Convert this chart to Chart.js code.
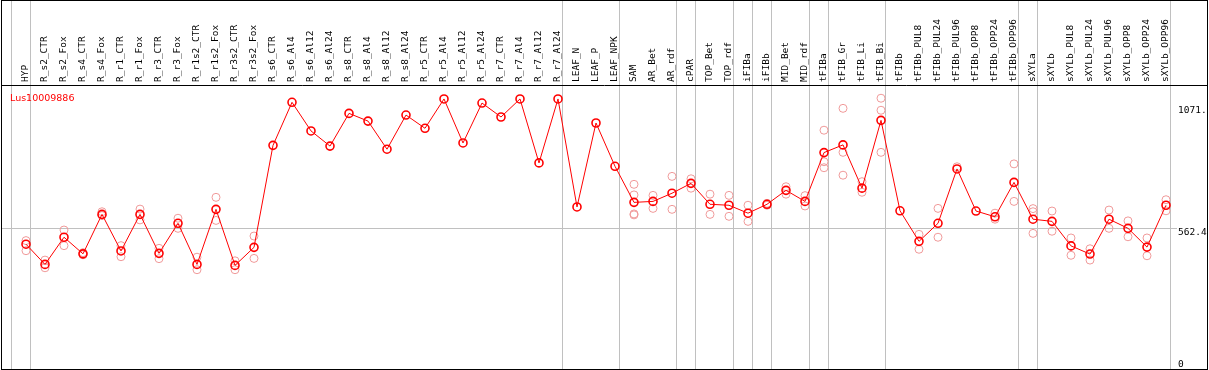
<!DOCTYPE html>
<html>
<head>
<meta charset="utf-8">
<script src="https://cdn.jsdelivr.net/npm/chart.js@4/dist/chart.umd.min.js"></script>
<style>
    body { margin: 0; background: #fff; }
    #wrap { width: 1209px; height: 370px; position: relative; }
</style>
</head>
<body>
<div id="wrap"><canvas id="chart"></canvas></div>
<script>
// 샘플(조직/처리) 이름
const categories = [
    'HYP', 'R_s2_CTR', 'R_s2_Fox', 'R_s4_CTR', 'R_s4_Fox', 'R_r1_CTR', 'R_r1_Fox', 'R_r3_CTR', 'R_r3_Fox',
    'R_r1s2_CTR', 'R_r1s2_Fox', 'R_r3s2_CTR', 'R_r3s2_Fox',
    'R_s6_CTR', 'R_s6_Al4', 'R_s6_Al12', 'R_s6_Al24', 'R_s8_CTR', 'R_s8_Al4', 'R_s8_Al12', 'R_s8_Al24',
    'R_r5_CTR', 'R_r5_Al4', 'R_r5_Al12', 'R_r5_Al24', 'R_r7_CTR', 'R_r7_Al4', 'R_r7_Al12', 'R_r7_Al24',
    'LEAF_N', 'LEAF_P', 'LEAF_NPK', 'SAM', 'AR_Bet', 'AR_rdf', 'cPAR', 'TOP_Bet', 'TOP_rdf',
    'iFIBa', 'iFIBb', 'MID_Bet', 'MID_rdf', 'tFIBa', 'tFIB_Gr', 'tFIB_Li', 'tFIB_Bi',
    'tFIBb', 'tFIBb_PUL8', 'tFIBb_PUL24', 'tFIBb_PUL96', 'tFIBb_OPP8', 'tFIBb_OPP24', 'tFIBb_OPP96',
    'sXYLa', 'sXYLb', 'sXYLb_PUL8', 'sXYLb_PUL24', 'sXYLb_PUL96', 'sXYLb_OPP8', 'sXYLb_OPP24', 'sXYLb_OPP96'
];

// 평균값 (빨간 선)
const meanValues = [
    496, 412, 525, 456, 620, 468, 620, 458, 583,
    412, 641, 408, 483,
    907, 1086, 967, 904, 1040, 1008, 891, 1033,
    978, 1100, 917, 1083, 1025, 1100, 834, 1100,
    651, 1000, 820, 670, 674, 708, 749, 662, 658,
    625, 662, 720, 674, 877, 909, 729, 1011,
    635, 508, 583, 809, 634, 610, 753,
    600, 591, 489, 455, 600, 562, 484, 658
];

// 반복 측정값 (연한 원)
const replicateValues = [
    [511, 469], [430, 398], [555, 490], [461, 452], [631, 615], [490, 444], [642, 597], [479, 436], [604, 562],
    [442, 390], [691, 595], [427, 390], [530, 437],
    [], [], [], [], [], [], [], [],
    [], [], [], [], [], [], [], [],
    [], [], [], [745, 701, 622, 618], [699, 645], [778, 641], [768, 729], [704, 620], [699, 612],
    [658, 591], [666, 658], [735, 704], [698, 655], [970, 839, 814], [1061, 878, 783], [756, 712], [1103, 1053, 878],
    [], [537, 475], [645, 525], [818], [], [625, 600], [830, 674],
    [644, 631, 541], [634, 550], [522, 450], [477, 430], [638, 562], [593, 527], [522, 448], [681, 635]
];

const seriesName = 'Lus10009886';

// y축 눈금
const yTickValues = [0, 562.4, 1071];
const yTickLabels = ['0', '562.4', '1071.'];
const yMax = 1158;

// 그룹 구분선 (이 인덱스 뒤에 선)
const groupEnds = [-1, 0, 28, 31, 34, 35, 37, 38, 39, 41, 42, 45, 52, 53, 60];

let replicatePoints = [];
replicateValues.forEach(function (reps, i) {
    reps.forEach(function (v) {
        replicatePoints.push({x: categories[i], y: v});
    });
});

// 테두리, 구분선, 범례, y 라벨
const framePlugin = {
    id: 'frame',
    beforeDatasetsDraw: function (chart) {
        const ctx = chart.ctx;
        const xs = chart.scales.x;
        const ys = chart.scales.y;
        ctx.save();
        ctx.strokeStyle = '#c0c0c0';
        ctx.lineWidth = 1;
        groupEnds.forEach(function (i) {
            const px = Math.floor(xs.getPixelForValue(i + 0.25)) + 0.5;
            ctx.beginPath();
            ctx.moveTo(px, 0);
            ctx.lineTo(px, 369);
            ctx.stroke();
        });
        const gy = Math.round(ys.getPixelForValue(yTickValues[1])) + 0.5;
        ctx.beginPath();
        ctx.moveTo(1, gy);
        ctx.lineTo(1177, gy);
        ctx.stroke();
        ctx.restore();
    },
    afterDraw: function (chart) {
        const ctx = chart.ctx;
        const ys = chart.scales.y;
        ctx.save();
        ctx.strokeStyle = '#000';
        ctx.lineWidth = 1;
        ctx.strokeRect(1.5, 0.5, 1206, 369);
        ctx.beginPath();
        ctx.moveTo(1, 85.5);
        ctx.lineTo(1208, 85.5);
        ctx.stroke();

        ctx.fillStyle = '#000';
        ctx.font = '9.5px "DejaVu Sans Mono"';
        ctx.textAlign = 'left';
        ctx.textBaseline = 'alphabetic';
        yTickValues.forEach(function (v, i) {
            const py = ys.getPixelForValue(v);
            ctx.fillText(yTickLabels[i], 1178, Math.min(py + 7, 366.5));
        });

        ctx.fillStyle = '#ff0000';
        ctx.font = '9.5px "DejaVu Sans"';
        ctx.fillText(seriesName, 10, 101);
        ctx.restore();
    }
};

new Chart(document.getElementById('chart'), {
    type: 'line',
    data: {
        labels: categories,
        datasets: [{
            label: seriesName,
            data: meanValues,
            borderColor: '#ff0000',
            borderWidth: 1,
            pointStyle: 'circle',
            pointRadius: 4,
            pointBorderWidth: 1.6,
            pointBorderColor: '#ff0000',
            pointBackgroundColor: 'rgba(0,0,0,0)',
            clip: false,
            order: 0
        }, {
            label: 'replicates',
            data: replicatePoints,
            showLine: false,
            pointStyle: 'circle',
            pointRadius: 4,
            pointBorderWidth: 1,
            pointBorderColor: '#f09a9a',
            pointBackgroundColor: 'rgba(0,0,0,0)',
            clip: false,
            order: 1
        }]
    },
    options: {
        responsive: true,
        maintainAspectRatio: false,
        animation: false,
        devicePixelRatio: 1,
        layout: {padding: {left: 16.5, right: 33.5, top: 0, bottom: 6.5}},
        plugins: {legend: {display: false}, tooltip: {enabled: false}},
        scales: {
            x: {
                type: 'category',
                position: 'top',
                offset: true,
                grid: {display: false, drawTicks: false},
                border: {display: false},
                ticks: {
                    autoSkip: false,
                    minRotation: 90,
                    maxRotation: 90,
                    padding: 3,
                    labelOffset: 11.4,
                    color: '#000',
                    font: {family: '"DejaVu Sans Mono"', size: 9.5}
                },
                afterFit: function (scale) {
                    scale.height = 85;
                }
            },
            y: {
                display: false,
                min: 0,
                max: yMax
            }
        }
    },
    plugins: [framePlugin]
});
</script>
</body>
</html>
